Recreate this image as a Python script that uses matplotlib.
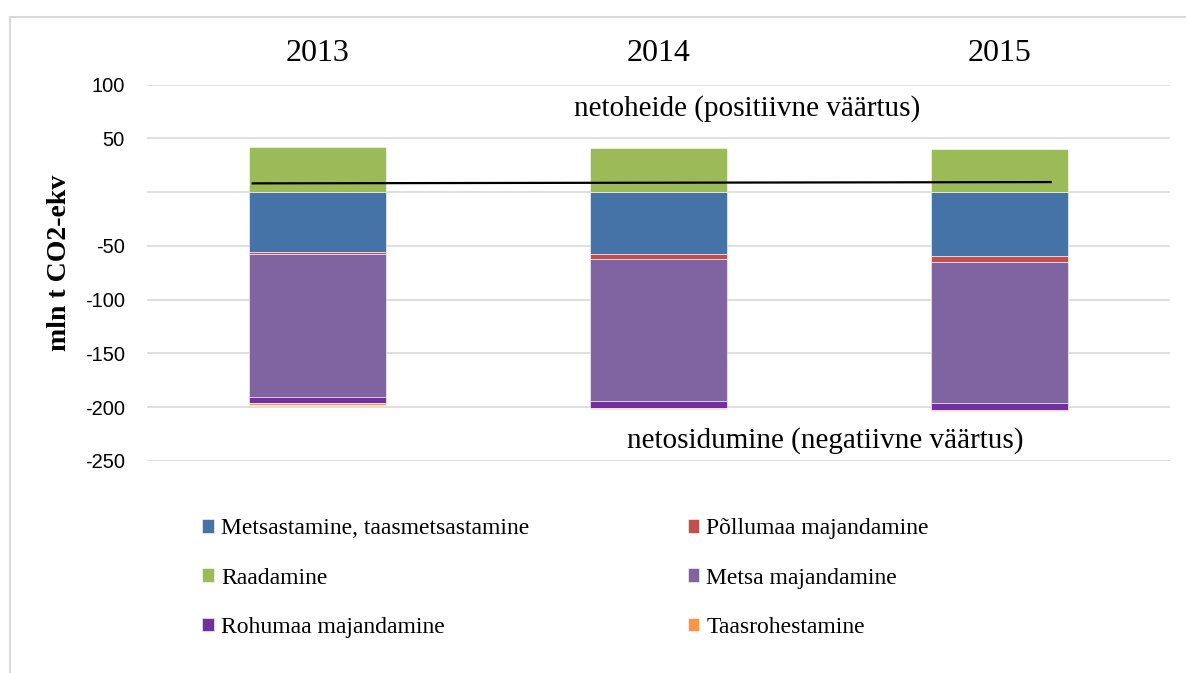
import matplotlib

matplotlib.use("Agg")
import matplotlib.pyplot as plt
import numpy as np
from matplotlib.patches import Rectangle

# values in mln t CO2-ekv
years = ["2013", "2014", "2015"]
metsastamine = [-55.8, -57.9, -59.8]
pollumaa = [-2.1, -4.5, -5.5]
raadamine = [41.5, 41.0, 39.7]
metsa_maj = [-133.0, -132.2, -131.1]
rohumaa = [-5.5, -6.2, -6.2]
taasrohestamine = [-1.5, -1.2, -1.0]

# net line (drawn as one straight segment across the bars)
net_x = [-0.19, 2.15]
net_y = [8.1, 9.3]

series = [
    ("Metsastamine, taasmetsastamine", metsastamine, "#4572A7"),
    ("Põllumaa majandamine", pollumaa, "#C0504D"),
    ("Raadamine", raadamine, "#9BBB59"),
    ("Metsa majandamine", metsa_maj, "#8064A2"),
    ("Rohumaa majandamine", rohumaa, "#7030A0"),
    ("Taasrohestamine", taasrohestamine, "#F79646"),
]

serif = "Liberation Serif"

fig = plt.figure(figsize=(11.86, 6.73), dpi=100)
ax = fig.add_axes([147 / 1186, 1 - 461 / 673, 1023 / 1186, (461 - 84.5) / 673])

x = np.arange(len(years))
pos_base = np.zeros(len(years))
neg_base = np.zeros(len(years))
handles = {}
for name, vals, color in series:
    vals = np.array(vals)
    bottom = np.where(vals >= 0, pos_base, neg_base)
    b = ax.bar(x, vals, width=0.4, bottom=bottom, color=color,
               edgecolor="white", linewidth=0.4, zorder=2, label=name)
    handles[name] = b
    pos_base = pos_base + np.clip(vals, 0, None)
    neg_base = neg_base + np.clip(vals, None, 0)

ax.plot(net_x, net_y, color="black", lw=1.6, zorder=3)

ax.set_xlim(-0.5, 2.5)
ax.set_ylim(-250, 100)
ticks = [100, 50, 0, -50, -100, -150, -200, -250]
ax.set_yticks(ticks)
ax.set_yticklabels(["" if t == 0 else str(t) for t in ticks],
                   fontfamily="Liberation Sans", fontsize=14.5)
ax.grid(axis="y", color="#D9D9D9", lw=1.2, zorder=0)
ax.tick_params(axis="y", length=0, pad=16)

ax.set_xticks(x)
ax.set_xticklabels(years, fontfamily=serif, fontsize=23)
ax.xaxis.tick_top()
ax.tick_params(axis="x", length=0, pad=12)
for s in ax.spines.values():
    s.set_visible(False)

ax.set_ylabel("mln t CO2-ekv", fontfamily=serif, fontweight="bold",
              fontsize=20)
ax.yaxis.set_label_coords(-0.073, 0.526)

ax.text(1.26, 77.8, "netoheide (positiivne väärtus)", ha="center", va="center",
        fontfamily=serif, fontsize=21)
ax.text(1.49, -230.8, "netosidumine (negatiivne väärtus)", ha="center",
        va="center", fontfamily=serif, fontsize=21)

order = ["Metsastamine, taasmetsastamine", "Raadamine", "Rohumaa majandamine",
         "Põllumaa majandamine", "Metsa majandamine", "Taasrohestamine"]
leg = fig.legend([handles[n] for n in order], order, ncol=2,
                 loc="upper left", bbox_to_anchor=(181 / 1186, 1 - 497 / 673),
                 frameon=False, prop={"family": serif, "size": 17},
                 handlelength=0.5, handleheight=0.5, handletextpad=0.3,
                 columnspacing=6.7, labelspacing=1.2)

# outer chart border
fig.patches.append(Rectangle((10 / 1186, -0.05), 1.2, 1 - 17 / 673 + 0.05,
                             transform=fig.transFigure, fill=False,
                             edgecolor="#D9D9D9", lw=1.5))

fig.savefig("out.png", dpi=100)
